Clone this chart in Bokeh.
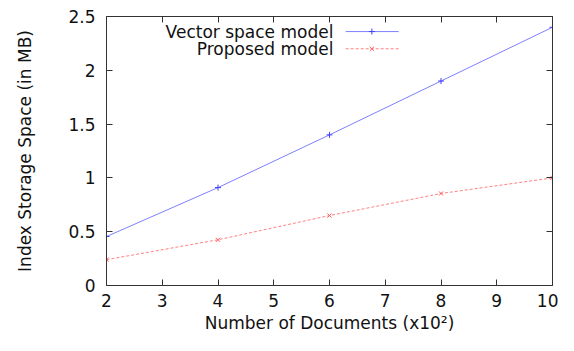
from bokeh.plotting import figure
from bokeh.models import Range1d, FixedTicker, LinearAxis, Label
from bokeh.embed import file_html
from bokeh.resources import INLINE

docs = [2, 4, 6, 8, 10]
vector_space = [0.455, 0.91, 1.40, 1.90, 2.40]
proposed = [0.24, 0.425, 0.65, 0.855, 1.0]
x_ticks = [2, 3, 4, 5, 6, 7, 8, 9, 10]
y_ticks = [0, 0.5, 1, 1.5, 2, 2.5]
y_tick_labels = ["0", "0.5", "1", "1.5", "2", "2.5"]
series_names = ["Vector space model", "Proposed model"]

FONT = "DejaVu Sans"
FS = "17px"
BLUE = "#7f7fff"
RED = "#ff8080"

p = figure(width=558, height=335, output_backend="svg", toolbar_location=None,
           x_range=Range1d(2, 10), y_range=Range1d(0, 2.5),
           min_border_left=106, min_border_right=6, min_border_top=16, min_border_bottom=42)
p.outline_line_color = None
p.xgrid.visible = False
p.ygrid.visible = False
p.background_fill_color = "white"

def style_axis(ax):
    ax.major_tick_in = 6
    ax.major_tick_out = 0
    ax.minor_tick_in = 0
    ax.minor_tick_out = 0
    ax.axis_line_color = "#333333"
    ax.major_tick_line_color = "#333333"
    ax.major_label_text_font = FONT
    ax.major_label_text_font_size = FS
    ax.major_label_text_color = "#111111"
    ax.axis_label_text_font = FONT
    ax.axis_label_text_font_size = FS
    ax.axis_label_text_font_style = "normal"
    ax.axis_label_text_color = "#111111"

p.xaxis.ticker = FixedTicker(ticks=x_ticks)
p.yaxis.ticker = FixedTicker(ticks=y_ticks)
p.yaxis.major_label_overrides = {t: l for t, l in zip(y_ticks, y_tick_labels)}
p.xaxis.axis_label = "Number of Documents (x10\u00b2)"
p.yaxis.axis_label = "Index Storage Space (in MB)"
style_axis(p.xaxis[0])
style_axis(p.yaxis[0])
p.xaxis.major_label_standoff = 8
p.yaxis.major_label_standoff = 11
p.xaxis.axis_label_standoff = 3
p.yaxis.axis_label_standoff = 30

top = LinearAxis(ticker=FixedTicker(ticks=x_ticks), major_label_overrides={t: "" for t in x_ticks})
style_axis(top)
top.major_label_standoff = 0
p.add_layout(top, "above")
right = LinearAxis(ticker=FixedTicker(ticks=y_ticks), major_label_overrides={t: "" for t in y_ticks})
style_axis(right)
right.major_label_standoff = 0
p.add_layout(right, "right")

p.line(docs, vector_space, line_color=BLUE, line_width=1)
p.scatter(docs, vector_space, marker="cross", size=6, line_color="#4040ff", line_width=1)
p.line(docs, proposed, line_color=RED, line_width=1, line_dash="3 2")
p.scatter(docs, proposed, marker="x", size=6, line_color="#ff6060", line_width=1)

# legend (gnuplot style: text right-aligned, sample to the right)
leg_y = [2.36, 2.20]
p.line([6.29, 7.24], [leg_y[0], leg_y[0]], line_color=BLUE, line_width=1)
p.scatter([6.76], [leg_y[0]], marker="cross", size=6, line_color="#4040ff")
p.line([6.29, 7.24], [leg_y[1], leg_y[1]], line_color=RED, line_width=1, line_dash="3 2")
p.scatter([6.76], [leg_y[1]], marker="x", size=6, line_color="#ff6060")
for name, yy in zip(series_names, leg_y):
    p.add_layout(Label(x=6.07, y=yy, text=name, text_align="right", text_baseline="middle",
                       text_font=FONT, text_font_size=FS, text_color="#111111"))

open("out.html", "w").write(file_html(p, INLINE))
